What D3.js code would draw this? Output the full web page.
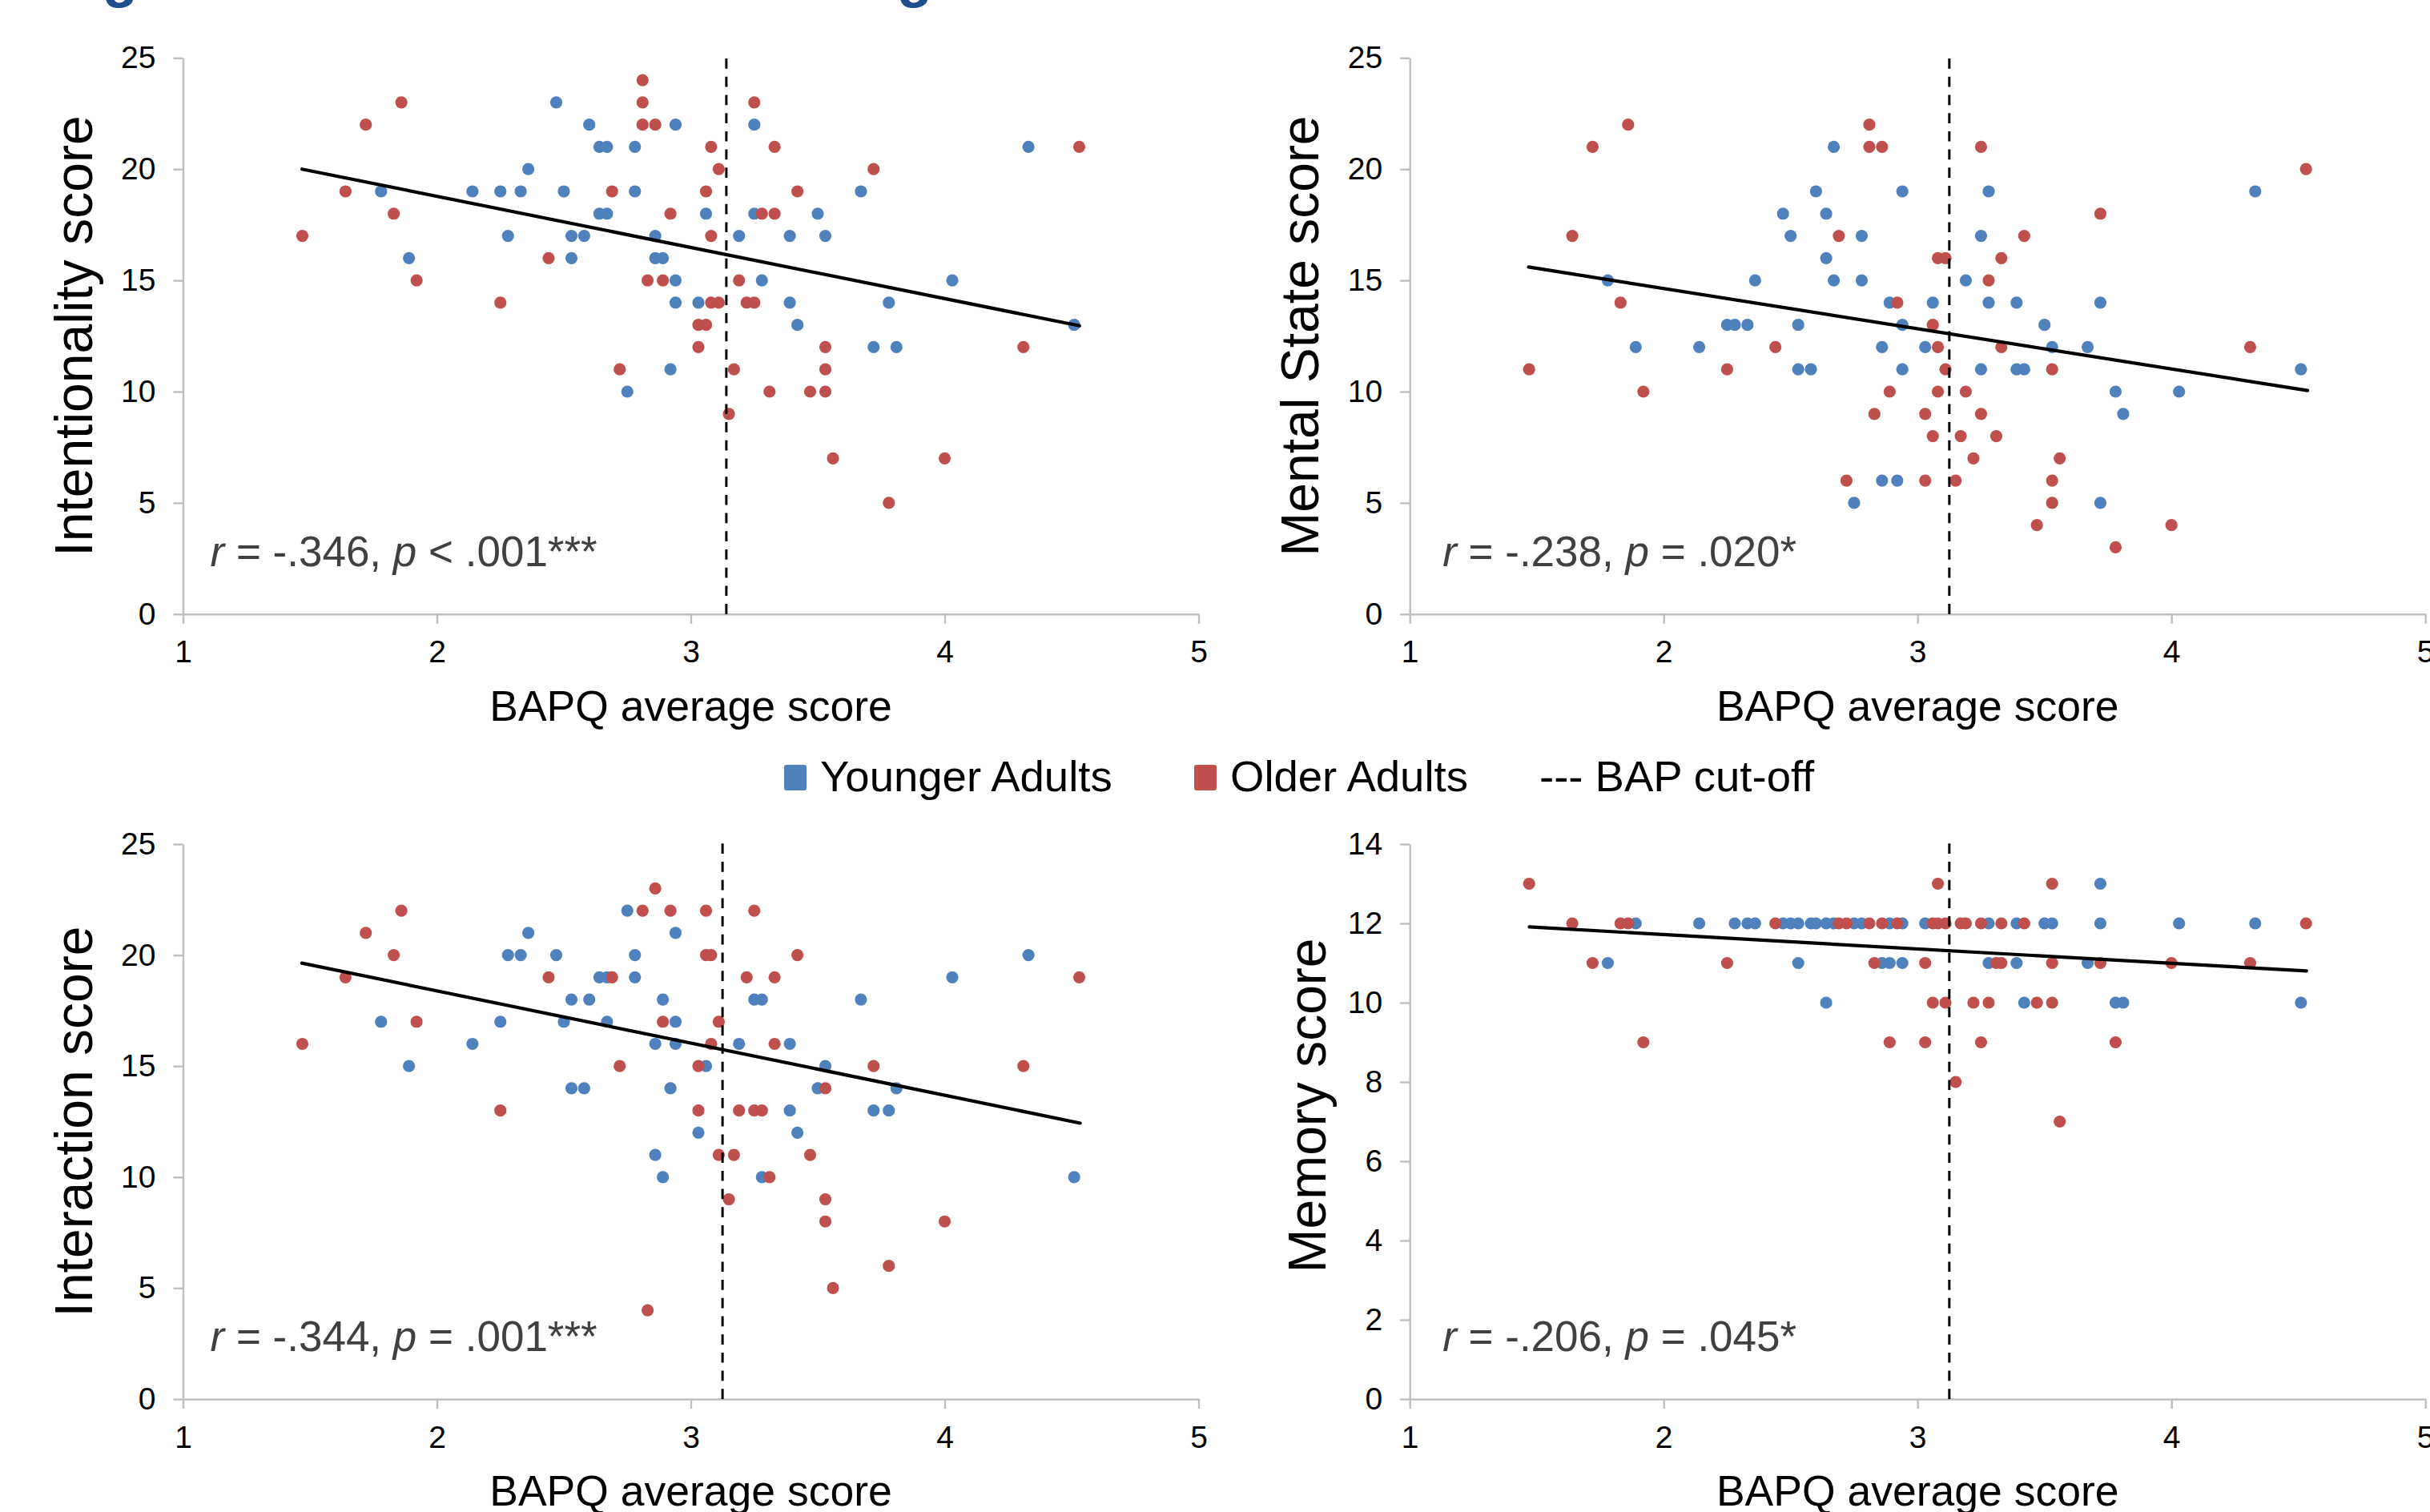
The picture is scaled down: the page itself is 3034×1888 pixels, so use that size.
<!DOCTYPE html>
<html><head><meta charset="utf-8">
<script src="https://cdn.jsdelivr.net/npm/d3@7"></script>
<style>
body{margin:0;background:#fff}
svg{display:block}
text{font-family:"Liberation Sans",Arial,sans-serif}
</style>
</head><body>
<svg id="chart" width="3034" height="1888"></svg>
<script>
// ---------------- DATA ----------------
const xTickValues = [1, 2, 3, 4, 5];
const scoreTicks = [0, 5, 10, 15, 20, 25];
const memoryTicks = [0, 2, 4, 6, 8, 10, 12, 14];
const panelTitles = ["Intentionality score", "Mental State score", "Interaction score", "Memory score"];
const xAxisTitle = "BAPQ average score";
const seriesNames = ["Younger Adults", "Older Adults"];
const cutoffLabel = "--- BAP cut-off";
const bapCutoffs = [3.14, 3.125, 3.125, 3.125];
// trend line end points [x0, y0, x1, y1]
const trendLines = [
  [1.469, 20.0, 4.531, 12.96],
  [1.468, 15.6, 4.536, 10.05],
  [1.468, 19.64, 4.534, 12.43],
  [1.471, 11.91, 4.532, 10.80]
];
const statR = ["-.346", "-.238", "-.344", "-.206"];
const statOp = ["<", "=", "=", "="];
const statP = [".001***", ".020*", ".001***", ".045*"];

const intentionalityYounger = [[2.47,23],[2.60,22],[2.94,22],[3.25,22],[2.64,21],[2.67,21],[2.78,21],[4.33,21],[2.36,20],[1.78,19],[2.14,19],[2.25,19],[2.33,19],[2.50,19],[2.78,19],[3.67,19],[2.64,18],[2.67,18],[3.06,18],[3.25,18],[3.50,18],[2.28,17],[2.53,17],[2.58,17],[2.86,17],[3.19,17],[3.39,17],[3.53,17],[1.89,16],[2.53,16],[2.86,16],[2.89,16],[2.94,15],[3.28,15],[4.03,15],[2.94,14],[3.03,14],[3.39,14],[3.78,14],[3.42,13],[4.51,13],[3.72,12],[3.81,12],[2.92,11],[2.75,10]];
const intentionalityOlder = [[2.81,24],[1.86,23],[2.81,23],[3.25,23],[1.72,22],[2.81,22],[2.86,22],[3.08,21],[3.33,21],[4.53,21],[3.11,20],[3.72,20],[1.64,19],[2.69,19],[3.06,19],[3.42,19],[1.83,18],[2.92,18],[3.28,18],[3.33,18],[1.47,17],[3.08,17],[2.44,16],[1.92,15],[2.83,15],[2.89,15],[3.19,15],[2.25,14],[3.08,14],[3.11,14],[3.22,14],[3.25,14],[3.03,13],[3.06,13],[3.03,12],[3.53,12],[4.31,12],[2.72,11],[3.17,11],[3.53,11],[3.31,10],[3.47,10],[3.53,10],[3.15,9],[3.56,7],[4.00,7],[3.78,5]];

const mentalYounger = [[2.67,21],[2.60,19],[2.94,19],[3.28,19],[4.33,19],[2.47,18],[2.64,18],[2.50,17],[2.78,17],[3.25,17],[2.64,16],[1.78,15],[2.36,15],[2.67,15],[2.78,15],[3.19,15],[2.89,14],[3.06,14],[3.28,14],[3.39,14],[3.72,14],[2.25,13],[2.28,13],[2.33,13],[2.53,13],[2.94,13],[3.50,13],[1.89,12],[2.14,12],[2.86,12],[3.03,12],[3.53,12],[3.67,12],[2.53,11],[2.58,11],[2.94,11],[3.25,11],[3.39,11],[3.42,11],[4.51,11],[3.78,10],[4.03,10],[3.81,9],[2.86,6],[2.92,6],[2.75,5],[3.72,5]];
const mentalOlder = [[1.86,22],[2.81,22],[1.72,21],[2.81,21],[2.86,21],[3.25,21],[4.53,20],[3.72,18],[1.64,17],[2.69,17],[3.42,17],[3.08,16],[3.11,16],[3.33,16],[3.28,15],[1.83,14],[2.92,14],[3.06,13],[2.44,12],[3.08,12],[3.33,12],[4.31,12],[1.47,11],[2.25,11],[3.11,11],[3.53,11],[1.92,10],[2.89,10],[3.08,10],[3.19,10],[2.83,9],[3.03,9],[3.25,9],[3.06,8],[3.17,8],[3.31,8],[3.22,7],[3.56,7],[2.72,6],[3.03,6],[3.15,6],[3.53,6],[3.53,5],[3.47,4],[4.00,4],[3.78,3]];

const interactionYounger = [[2.75,22],[2.36,21],[2.94,21],[2.28,20],[2.33,20],[2.47,20],[2.78,20],[4.33,20],[2.64,19],[2.67,19],[2.78,19],[4.03,19],[2.53,18],[2.60,18],[2.89,18],[3.25,18],[3.28,18],[3.67,18],[1.78,17],[2.25,17],[2.50,17],[2.67,17],[2.94,17],[2.14,16],[2.86,16],[2.94,16],[3.19,16],[3.39,16],[1.89,15],[3.06,15],[3.53,15],[2.53,14],[2.58,14],[2.92,14],[3.50,14],[3.81,14],[3.39,13],[3.72,13],[3.78,13],[3.03,12],[3.42,12],[2.86,11],[2.89,10],[3.28,10],[4.51,10]];
const interactionOlder = [[2.86,23],[1.86,22],[2.81,22],[2.92,22],[3.06,22],[3.25,22],[1.72,21],[1.83,20],[3.06,20],[3.08,20],[3.42,20],[1.64,19],[2.44,19],[2.69,19],[3.22,19],[3.33,19],[4.53,19],[1.92,17],[2.89,17],[3.11,17],[1.47,16],[3.08,16],[3.33,16],[2.72,15],[3.03,15],[3.72,15],[4.31,15],[3.53,14],[2.25,13],[3.03,13],[3.19,13],[3.25,13],[3.28,13],[3.11,11],[3.17,11],[3.47,11],[3.31,10],[3.15,9],[3.53,9],[3.53,8],[4.00,8],[3.78,6],[3.56,5],[2.83,4]];

const memoryYounger = [[3.72,13],[1.89,12],[2.14,12],[2.28,12],[2.33,12],[2.36,12],[2.47,12],[2.50,12],[2.53,12],[2.58,12],[2.60,12],[2.64,12],[2.67,12],[2.75,12],[2.78,12],[2.89,12],[2.94,12],[3.03,12],[3.28,12],[3.39,12],[3.50,12],[3.53,12],[3.72,12],[4.03,12],[4.33,12],[1.78,11],[2.53,11],[2.86,11],[2.89,11],[2.94,11],[3.28,11],[3.39,11],[3.67,11],[2.64,10],[3.42,10],[3.78,10],[3.81,10],[4.51,10]];
const memoryOlder = [[1.47,13],[3.08,13],[3.53,13],[1.64,12],[1.83,12],[1.86,12],[2.44,12],[2.69,12],[2.72,12],[2.81,12],[2.86,12],[2.92,12],[3.06,12],[3.08,12],[3.11,12],[3.17,12],[3.19,12],[3.25,12],[3.33,12],[3.42,12],[4.53,12],[1.72,11],[2.25,11],[2.83,11],[3.03,11],[3.31,11],[3.33,11],[3.53,11],[3.72,11],[4.00,11],[4.31,11],[3.06,10],[3.11,10],[3.22,10],[3.28,10],[3.47,10],[3.53,10],[1.92,9],[2.89,9],[3.03,9],[3.25,9],[3.78,9],[3.15,8],[3.56,7]];

const panelData = [
  [intentionalityYounger, intentionalityOlder],
  [mentalYounger, mentalOlder],
  [interactionYounger, interactionOlder],
  [memoryYounger, memoryOlder]
];
const panelYTicks = [scoreTicks, scoreTicks, scoreTicks, memoryTicks];

// ---------------- LAYOUT / STYLE ----------------
const colors = ["#4F81BD", "#C0504D"];
const axisColor = "#BFBFBF";
const layout = [
  {left: 228.5, right: 1496.5, top: 72.3, bottom: 766.8, titleOff: 114, titleShift: 0, statOff: 34},
  {left: 1760.2, right: 3028.2, top: 72.3, bottom: 766.8, titleOff: 114, titleShift: 0, statOff: 41},
  {left: 228.5, right: 1496.5, top: 1054, bottom: 1747, titleOff: 114, titleShift: 0, statOff: 34},
  {left: 1760.2, right: 3028.2, top: 1054, bottom: 1747, titleOff: 105, titleShift: -20, statOff: 41}
];

const svg = d3.select("#chart");

// cut-off title descenders at the very top
const titleG = svg.append("g");
titleG.append("text").attr("x", 150).attr("y", -5).attr("text-anchor", "middle")
  .attr("font-size", 72).attr("font-weight", "bold").attr("fill", "#1F4E8C").text("g");
titleG.append("text").attr("x", 1142).attr("y", -5).attr("text-anchor", "middle")
  .attr("font-size", 72).attr("font-weight", "bold").attr("fill", "#1F4E8C").text("g");

layout.forEach((L, i) => {
  const yTicks = panelYTicks[i];
  const x = d3.scaleLinear().domain([xTickValues[0], xTickValues[xTickValues.length - 1]]).range([L.left, L.right]);
  const y = d3.scaleLinear().domain([yTicks[0], yTicks[yTicks.length - 1]]).range([L.bottom, L.top]);
  const g = svg.append("g");

  // axes
  const yAxis = d3.axisLeft(y).tickValues(yTicks).tickSize(12).tickSizeOuter(0).tickPadding(22).tickFormat(d3.format("d"));
  const xAxis = d3.axisBottom(x).tickValues(xTickValues).tickSize(12).tickSizeOuter(0).tickPadding(21).tickFormat(d3.format("d"));
  const ga = g.append("g").attr("transform", `translate(${L.left},0)`).call(yAxis);
  const gb = g.append("g").attr("transform", `translate(0,${L.bottom})`).call(xAxis);
  [ga, gb].forEach(a => {
    a.select(".domain").attr("stroke", axisColor).attr("stroke-width", 2.4);
    a.selectAll(".tick line").attr("stroke", axisColor).attr("stroke-width", 2.4);
    a.selectAll(".tick text").attr("font-size", 39).attr("fill", "#000")
      .attr("font-family", '"Liberation Sans", Arial, sans-serif');
  });

  // axis titles
  g.append("text")
    .attr("transform", `translate(${L.left - L.titleOff},${(L.top + L.bottom) / 2 + L.titleShift}) rotate(-90)`)
    .attr("text-anchor", "middle").attr("font-size", 66).attr("fill", "#000")
    .text(panelTitles[i]);
  g.append("text")
    .attr("x", (L.left + L.right) / 2).attr("y", L.bottom + 133)
    .attr("text-anchor", "middle").attr("font-size", 53.5).attr("fill", "#000")
    .text(xAxisTitle);

  // points
  panelData[i].forEach((series, s) => {
    g.append("g").selectAll("circle").data(series).join("circle")
      .attr("cx", d => x(d[0])).attr("cy", d => y(d[1])).attr("r", 7.6)
      .attr("fill", colors[s]);
  });

  // trend line
  const t = trendLines[i];
  g.append("line")
    .attr("x1", x(t[0])).attr("y1", y(t[1])).attr("x2", x(t[2])).attr("y2", y(t[3]))
    .attr("stroke", "#000").attr("stroke-width", 4.2).attr("stroke-linecap", "round");

  // BAP cut-off
  g.append("line")
    .attr("x1", x(bapCutoffs[i])).attr("x2", x(bapCutoffs[i]))
    .attr("y1", y(yTicks[0])).attr("y2", y(yTicks[yTicks.length - 1]) - 6)
    .attr("stroke", "#000").attr("stroke-width", 3).attr("stroke-dasharray", "12.7,10");

  // statistics annotation
  const st = g.append("text").attr("x", L.left + L.statOff).attr("y", L.bottom - 60)
    .attr("font-size", 53).attr("fill", "#404040");
  st.append("tspan").attr("font-style", "italic").text("r");
  st.append("tspan").text(" = " + statR[i] + ", ");
  st.append("tspan").attr("font-style", "italic").text("p");
  st.append("tspan").text(" " + statOp[i] + " " + statP[i]);
});

// legend
const lg = svg.append("g");
const legendItems = [
  {label: seriesNames[0], color: colors[0], rx: 979, tx: 1024},
  {label: seriesNames[1], color: colors[1], rx: 1491, tx: 1536}
];
legendItems.forEach(it => {
  lg.append("rect").attr("x", it.rx).attr("y", 955).attr("width", 28).attr("height", 32).attr("rx", 3)
    .attr("fill", it.color);
  lg.append("text").attr("x", it.tx).attr("y", 988).attr("font-size", 54.5).attr("fill", "#000").text(it.label);
});
lg.append("text").attr("x", 1922).attr("y", 988).attr("font-size", 54.5).attr("fill", "#000").text(cutoffLabel);
</script>
</body></html>
